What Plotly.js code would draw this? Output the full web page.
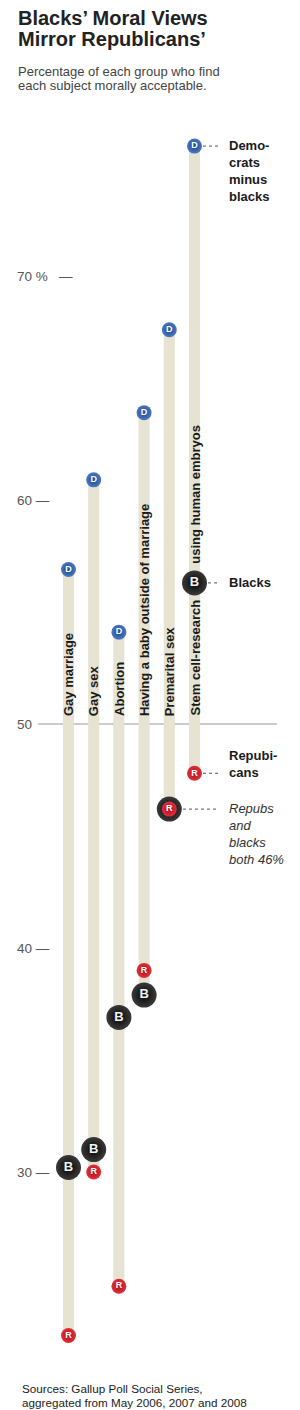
<!DOCTYPE html>
<html>
<head>
<meta charset="utf-8">
<script src="https://cdn.plot.ly/plotly-3.0.1.min.js"></script>
<style>
html,body{margin:0;padding:0;background:#fff;}
#chart{width:300px;height:1410px;}
</style>
</head>
<body>
<div id="chart"></div>
<script>
// ---- data ----
var categories = ["Gay marriage", "Gay sex", "Abortion", "Having a baby outside of marriage", "Premarital sex", "Stem cell-research using human embryos"];
var democratsMinusBlacks = [56.9, 60.9, 54.1, 63.9, 67.6, 75.8];
var blacks = [30.2, 31.0, 36.9, 37.9, 46.2, 56.3];
var republicans = [22.7, 30.0, 24.9, 39.0, 46.2, 47.8];
var tickValues = [70, 60, 50, 40, 30];
var tickLabels = ["70 %", "60", "50", "40", "30"];

var FONT = "'Liberation Sans', Arial, Helvetica, sans-serif";
var W = 300, H = 1410;
var xs = categories.map(function (c, i) { return i; });

// bars spanning each group's range
var lo = xs.map(function (i) { return Math.min(democratsMinusBlacks[i], blacks[i], republicans[i]); });
var hi = xs.map(function (i) { return Math.max(democratsMinusBlacks[i], blacks[i], republicans[i]); });

var traces = [];
traces.push({
  type: 'bar', x: xs, base: lo,
  y: xs.map(function (i) { return hi[i] - lo[i]; }),
  width: 0.44, marker: {color: '#e6e3d3', line: {width: 0}},
  hoverinfo: 'skip', showlegend: false
});
traces.push({
  type: 'scatter', mode: 'markers+text', x: xs, y: democratsMinusBlacks,
  text: xs.map(function () { return 'D'; }), textposition: 'middle center',
  textfont: {family: FONT, size: 9, color: '#ffffff', weight: 'bold'},
  marker: {size: 15, color: '#4a78c0', gradient: {type: 'radial', color: '#1f4890'}, line: {width: 0}},
  hoverinfo: 'skip', showlegend: false, cliponaxis: false
});
// blacks: where equal to republicans, the R sits inside the black ball
traces.push({
  type: 'scatter', mode: 'markers+text', x: xs, y: blacks,
  text: xs.map(function (i) { return blacks[i] === republicans[i] ? '' : 'B'; }), textposition: 'middle center',
  textfont: {family: FONT, size: 13, color: '#f2f2f2', weight: 'bold'},
  marker: {size: 25, color: '#3a3a3a', gradient: {type: 'radial', color: '#050505'}, line: {width: 0}},
  hoverinfo: 'skip', showlegend: false, cliponaxis: false
});
traces.push({
  type: 'scatter', mode: 'markers+text', x: xs, y: republicans,
  text: xs.map(function () { return 'R'; }), textposition: 'middle center',
  textfont: {family: FONT, size: 9, color: '#ffffff', weight: 'bold'},
  marker: {size: 15, color: '#e0303a', gradient: {type: 'radial', color: '#b0101c'}, line: {width: 0}},
  hoverinfo: 'skip', showlegend: false, cliponaxis: false
});

// scale helpers (pixel geometry of the layout)
var x0px = 68.5, stepPx = 25.2;
var xRange = [-x0px / stepPx, (W - x0px) / stepPx];
var pxPerUnit = 22.4, y50px = 724;
var yRange = [50 - (H - y50px) / pxPerUnit, 50 + y50px / pxPerUnit];
function py(px) { return 1 - px / H; }

var ann = [];
function addPaper(text, xpx, ypx, size, color, opts) {
  var a = {xref: 'paper', yref: 'paper', x: xpx / W, y: py(ypx), text: text, showarrow: false,
    xanchor: 'left', yanchor: 'middle', align: 'left',
    font: {family: FONT, size: size, color: color}};
  for (var k in opts) a[k] = opts[k];
  ann.push(a);
}
// title + subtitle
addPaper('<b>Blacks’ Moral Views</b>', 16, 17.5, 20, '#222');
addPaper('<b>Mirror Republicans’</b>', 16, 39.5, 20, '#222');
addPaper('Percentage of each group who find', 16, 71, 13, '#444');
addPaper('each subject morally acceptable.', 16, 85.5, 13, '#444');
addPaper('Sources: Gallup Poll Social Series,', 20, 1388, 11.7, '#222');
addPaper('aggregated from May 2006, 2007 and 2008', 20, 1402, 11.7, '#222');

// tick labels
tickValues.forEach(function (v, i) {
  var t = tickLabels[i] + (v === 50 ? '' : (tickLabels[i].indexOf('%') >= 0 ? '\u00a0\u00a0\u00a0—' : ' —'));
  ann.push({xref: 'paper', yref: 'y', x: 15 / W, y: v, text: t, showarrow: false,
    xanchor: 'left', yanchor: 'middle', font: {family: FONT, size: 13.5, color: '#555'}});
});

// vertical category labels
var gap = '\u00a0\u00a0\u00a0\u00a0\u00a0\u00a0\u00a0\u00a0\u00a0\u00a0';
categories.forEach(function (c, i) {
  var t = c.replace('research using', 'research' + gap + 'using');
  ann.push({xref: 'x', yref: 'y', x: i, y: 50, yshift: 6, text: '<b>' + t + '</b>', showarrow: false,
    textangle: -90, xanchor: 'center', yanchor: 'bottom',
    font: {family: FONT, size: 13, color: '#1a1a1a'}});
});

// side labels
var last = categories.length - 1;
var pm = 4; // premarital sex index
function sideLabel(text, yv, yanchor, yshift, font) {
  ann.push({xref: 'paper', yref: 'y', x: 227 / W, y: yv, yshift: yshift, text: text, showarrow: false,
    xanchor: 'left', yanchor: yanchor, align: 'left', font: font});
}
var boldF = {family: FONT, size: 13, color: '#1a1a1a'};
sideLabel('<b>Demo-<br>crats<br>minus<br>blacks</b>', democratsMinusBlacks[last], 'top', 10, boldF);
sideLabel('<b>Blacks</b>', blacks[last], 'middle', 0, boldF);
sideLabel('<b>Repubi-<br>cans</b>', republicans[last], 'bottom', -9, boldF);
sideLabel('<i>Repubs<br>and<br>blacks<br>both ' + Math.round(republicans[pm]) + '%</i>', republicans[pm], 'top', 10,
  {family: FONT, size: 13, color: '#333'});

var shapes = [
  {type: 'line', xref: 'paper', yref: 'y', x0: 38 / W, x1: 277 / W, y0: 50, y1: 50,
   line: {color: '#999', width: 1}, layer: 'below'},
  {type: 'line', xref: 'paper', yref: 'y', x0: 203 / W, x1: 218 / W, y0: democratsMinusBlacks[last], y1: democratsMinusBlacks[last],
   line: {color: '#555', width: 1, dash: 'dot'}},
  {type: 'line', xref: 'paper', yref: 'y', x0: 208 / W, x1: 218 / W, y0: blacks[last], y1: blacks[last],
   line: {color: '#555', width: 1, dash: 'dot'}},
  {type: 'line', xref: 'paper', yref: 'y', x0: 203 / W, x1: 218 / W, y0: republicans[last], y1: republicans[last],
   line: {color: '#555', width: 1, dash: 'dot'}},
  {type: 'line', xref: 'paper', yref: 'y', x0: 183 / W, x1: 219 / W, y0: republicans[pm], y1: republicans[pm],
   line: {color: '#555', width: 1, dash: 'dot'}}
];

var layout = {
  width: W, height: H,
  margin: {l: 0, r: 0, t: 0, b: 0, pad: 0},
  paper_bgcolor: '#fff', plot_bgcolor: '#fff',
  showlegend: false,
  xaxis: {range: xRange, visible: false, fixedrange: true},
  yaxis: {range: yRange, visible: false, fixedrange: true},
  annotations: ann,
  shapes: shapes,
  font: {family: FONT}
};
Plotly.newPlot('chart', traces, layout, {staticPlot: true, displayModeBar: false});
</script>
</body>
</html>
